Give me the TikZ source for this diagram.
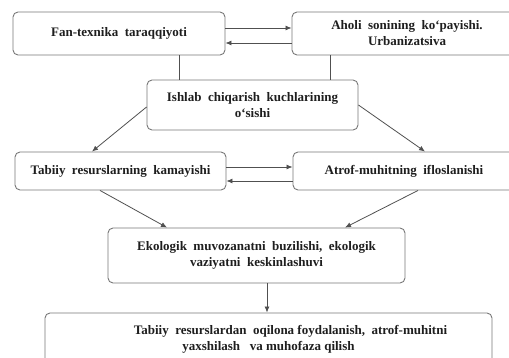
\documentclass[tikz,border=0pt]{standalone}
\usepackage{fontspec}
\setmainfont{Liberation Serif}
\usetikzlibrary{arrows.meta}
\definecolor{boxgray}{RGB}{120,120,120}
\definecolor{linegray}{RGB}{80,80,80}
\definecolor{textblack}{RGB}{30,30,30}
\tikzset{
  box/.style={draw=boxgray,line width=0.9pt,rounded corners=5pt,align=center,
    text=textblack,font=\bfseries\fontsize{13}{16}\selectfont,inner sep=0pt},
  link/.style={draw=linegray,line width=0.8pt},
  arr/.style={link,-{Latex[length=6pt,width=5pt]}}
}
\begin{document}
\begin{tikzpicture}[x=1pt,y=-1pt]
    \useasboundingbox (0,0) rectangle (509,358);
    % boxes
    \node[box,minimum width=212pt,minimum height=43pt] (fan) at (119,33.5) {Fan-texnika \ taraqqiyoti};
    \node[box,minimum width=230pt,minimum height=43pt] (aholi) at (407,33.5) {Aholi \ sonining \ ko‘payishi.\\Urbanizatsiva};
    \node[box,minimum width=211pt,minimum height=50pt] (ishlab) at (252.5,105) {Ishlab \ chiqarish \ kuchlarining\\o‘sishi};
    \node[box,minimum width=211pt,minimum height=38pt] (tabiiy) at (120.5,171) {Tabiiy \ resurslarning \ kamayishi};
    \node[box,minimum width=222pt,minimum height=38pt] (atrof) at (404,171) {Atrof-muhitning \ ifloslanishi};
    \node[box,minimum width=297pt,minimum height=55pt] (ekologik) at (256.5,255.5) {Ekologik \ muvozanatni \ buzilishi, \ ekologik\\vaziyatni \ keskinlashuvi};
    \node[box,minimum width=447pt,minimum height=52pt] (oqilona) at (268.5,339) {\hspace*{44pt}Tabiiy \ resurslardan \ oqilona foydalanish, \ atrof-muhitni\\yaxshilash \ \ va muhofaza qilish};
    % connectors
    \draw[arr] ([yshift=5.5pt]fan.east) -- ([yshift=5.5pt]aholi.west);
    \draw[arr] ([yshift=-9.5pt]aholi.west) -- ([yshift=-9.5pt]fan.east);
    \coordinate (f1) at ([xshift=60pt]fan.south);
    \coordinate (a1) at ([xshift=-77pt]aholi.south);
    \draw[link] (f1) -- (f1 |- ishlab.north);
    \draw[link] (a1) -- (a1 |- ishlab.north);
    \draw[arr] ([yshift=-2pt]ishlab.west) -- ([xshift=-28.5pt]tabiiy.north);
    \draw[arr] (ishlab.east) -- ([xshift=21pt]atrof.north);
    \draw[arr] ([yshift=4pt]tabiiy.east) -- ([yshift=4pt]atrof.west);
    \draw[arr] ([yshift=-10pt]atrof.west) -- ([yshift=-10pt]tabiiy.east);
    \draw[arr] ([xshift=-20.5pt]tabiiy.south) -- ([xshift=-89.5pt]ekologik.north);
    \draw[arr] ([xshift=14pt]atrof.south) -- ([xshift=88.5pt]ekologik.north);
    \coordinate (e1) at ([xshift=10.5pt]ekologik.south);
    \draw[arr] (e1) -- (e1 |- oqilona.north);
\end{tikzpicture}
\end{document}
